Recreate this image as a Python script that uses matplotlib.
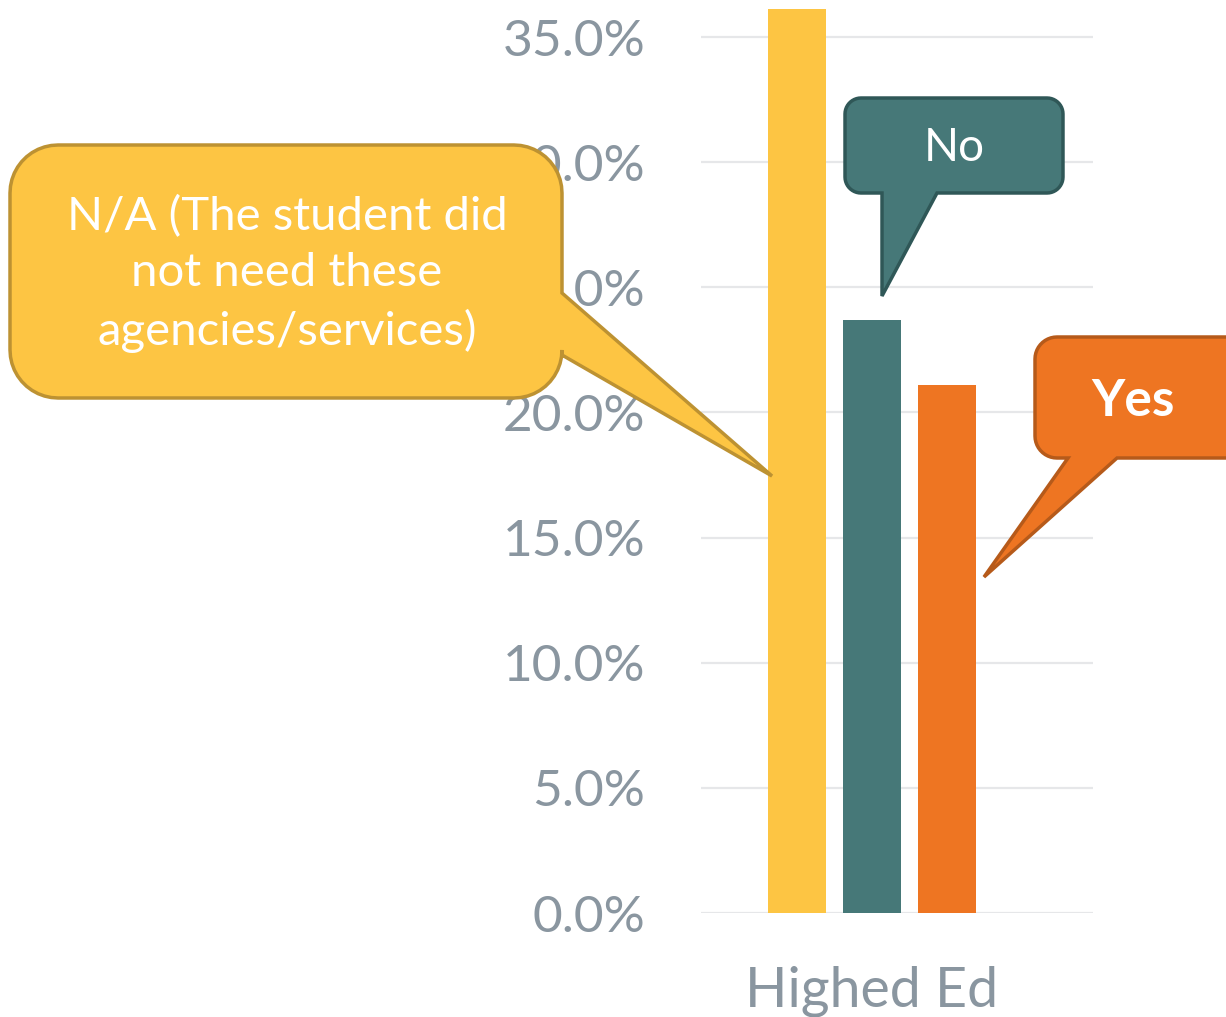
import numpy as np
import matplotlib
matplotlib.use('Agg')
import matplotlib.pyplot as plt
from matplotlib.patches import Polygon
from matplotlib.ticker import FuncFormatter

# data
categories = ['Highed Ed']
series = ['N/A (The student did\nnot need these\nagencies/services)', 'No', 'Yes']
values = [36.1, 23.7, 21.1]
colors = ['#FDC543', '#467878', '#EE7522']
edges = ['#BD9232', '#2F5757', '#B65A1A']
yticks = [0, 5, 10, 15, 20, 25, 30, 35]

W, H = 1226, 1017
fig = plt.figure(figsize=(W / 100, H / 100), dpi=100)
plt.rcParams['font.family'] = ['Lato', 'DejaVu Sans']

# bar axes, placed in pixel terms
ax_l, ax_r, ax_b, ax_t = 701, 1093, 913, 0
ax = fig.add_axes([ax_l / W, (H - ax_b) / H, (ax_r - ax_l) / W, (ax_b - ax_t) / H])
ax.set_ylim(0, 35 * (913 - 0) / (913 - 37))
center = 872
ax.set_xlim(-(center - ax_l) / (ax_r - ax_l), (ax_r - center) / (ax_r - ax_l))
bw = 58 / (ax_r - ax_l)
step = 75 / (ax_r - ax_l)
for i, v in enumerate(values):
    ax.bar((i - 1) * step, v, width=bw, color=colors[i], zorder=3)

ax.set_yticks(yticks)
ax.yaxis.set_major_formatter(FuncFormatter(lambda v, p: '%.1f%%' % v))
ax.set_xticks([0])
ax.set_xticklabels(categories)
ax.tick_params(axis='y', length=0, pad=40, labelsize=37, labelcolor='#8A96A0')
ax.tick_params(axis='x', length=0, pad=38, labelsize=40, labelcolor='#8A96A0')
ax.grid(axis='y', color='#E6E7E9', lw=1.6, zorder=0)
for s in ax.spines.values():
    s.set_visible(False)
ax.patch.set_alpha(0)

# overlay in image pixel coordinates for callouts
ov = fig.add_axes([0, 0, 1, 1], zorder=5)
ov.set_xlim(0, W)
ov.set_ylim(H, 0)
ov.axis('off')
ov.patch.set_alpha(0)


def arc(cx, cy, r, a0, a1):
    t = np.radians(np.linspace(a0, a1, 12))
    return [(cx + r * np.cos(t_), cy + r * np.sin(t_)) for t_ in t]


def callout(x0, y0, x1, y1, r, side, p1, tip, p2):
    # image coords, y downward; go clockwise on screen
    pts = [(x0 + r, y0), (x1 - r, y0)]
    pts += arc(x1 - r, y0 + r, r, -90, 0)
    if side == 'right':
        pts += [(x1, p1), tip, (x1, p2)]
    pts += arc(x1 - r, y1 - r, r, 0, 90)
    if side == 'bottom':
        pts += [(p1, y1), tip, (p2, y1)]
    pts += arc(x0 + r, y1 - r, r, 90, 180)
    pts += arc(x0 + r, y0 + r, r, 180, 270)
    return pts


boxes = [
    callout(10, 145, 562, 398, 48, 'right', 293, (772, 476), 355),
    callout(845, 98, 1063, 193, 16, 'bottom', 937, (882, 296), 882),
    callout(1035, 337, 1250, 458, 22, 'bottom', 1117, (984, 577), 1068),
]
for pts, fc, ec in zip(boxes, colors, edges):
    ov.add_patch(Polygon(pts, closed=True, facecolor=fc, edgecolor=ec, lw=2.5, joinstyle='miter'))

ov.text(287, 274, series[0], ha='center', va='center', color='white', fontsize=34, linespacing=1.42)
ov.text(954, 148, series[1], ha='center', va='center', color='white', fontsize=33)
ov.text(1133, 401, series[2], ha='center', va='center', color='white', fontsize=37, fontweight='bold')

fig.savefig('out.png', dpi=100)
